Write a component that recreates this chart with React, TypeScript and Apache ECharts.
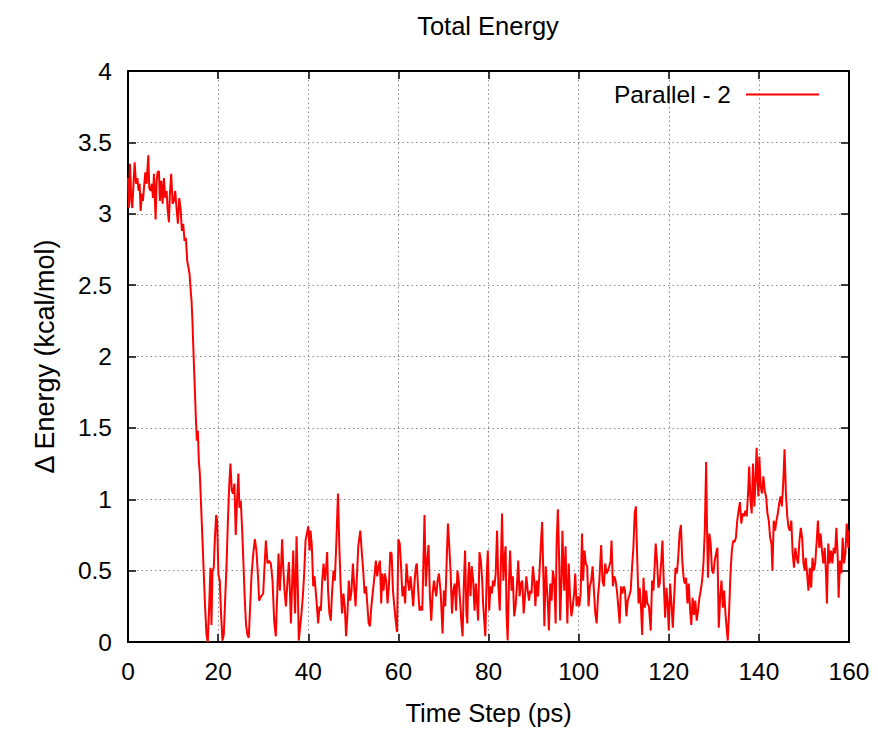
import React, { useEffect, useRef } from "react";
import * as echarts from "echarts";

const chartTitle = "Total Energy";
const seriesName = "Parallel - 2";
const xAxisName = "Time Step (ps)";
const yAxisName = "Δ Energy (kcal/mol)";
const xRange = [0, 160, 20];
const yRange = [0, 4, 0.5];

// [time (ps), ΔE (kcal/mol)]
const equilibration: [number, number][] = [
  [0,3.25],[0.2,3.04],[0.44,3.35],[0.74,3.09],[0.96,3.04],[1.25,3.23],[1.48,3.36],[1.77,3.21],[2.07,3.25],[2.36,3.16],
  [2.58,3.21],[2.8,3.02],[3.1,3.14],[3.32,3.09],[3.54,3.18],[3.84,3.29],[4.13,3.21],[4.5,3.41],[4.72,3.18],[5.02,3.16],
  [5.31,3.21],[5.54,3.11],[5.76,3.28],[6.13,2.96],[6.35,3.23],[6.57,3.29],[6.86,3.3],[7.08,3.09],[7.38,3.23],[7.68,3.07],
  [7.97,3.25],[8.27,3.11],[8.56,3.16],[8.78,3.04],[9.08,2.94],[9.3,3.14],[9.59,3.28],[9.89,3.07],[10.18,3.09],[10.48,3.16],
  [10.77,3.04],[11.07,2.93],[11.37,3.11],[11.66,3.04],[11.96,2.88],[12.25,2.93],[12.55,2.81],[12.84,2.83],[13.14,2.67],[13.43,2.62],
  [13.65,2.58],[13.87,2.48],[14.1,2.39],[14.3,2.25],[14.5,2.06],[14.76,1.83],[15.06,1.57],[15.28,1.41],[15.5,1.48],[15.72,1.27],
  [15.94,1.18],[16.24,0.94],[16.53,0.71],[16.83,0.47],[17.12,0.24],[17.42,0.05],[17.71,0],[18,0.24],[18.3,0.52],[18.52,0.12],
  [18.75,0.5],[19.04,0.52],[19.26,0.71],[19.56,0.89],[19.78,0.85],[20.07,0.47],[20.37,0.43],[20.66,0.19],[20.96,0.01],[21.25,0.05],
  [21.55,0.29],[21.85,0.52],[22.14,0.82],[22.44,1.08],[22.73,1.25],[23.03,1.06],[23.32,1.04],[23.62,1.11],[23.91,0.75],[24.2,0.99],
  [24.5,1.18],[24.72,0.94],[25.02,0.99],[25.31,0.8],[25.6,0.57],[25.9,0.31],[26.2,0.12],[26.5,0.05],[26.8,0.03],
];

const stageB: [number, number][] = [
  [27.4,0.46],[27.8,0.62],[28.15,0.72],[28.5,0.64],[28.9,0.43],[29.1,0.29],[29.55,0.32],[30,0.34],[30.3,0.53],[30.6,0.71],
  [30.96,0.55],[31.33,0.57],[31.7,0.55],[32.07,0.43],[32.44,0.15],[32.8,0.04],[33.1,0.32],[33.4,0.62],[33.7,0.36],[34,0.55],
  [34.2,0.72],[34.44,0.53],[34.74,0.36],[35.04,0.25],[35.4,0.43],[35.7,0.56],[35.93,0.36],[36.15,0.13],[36.44,0.43],[36.67,0.64],
  [36.9,0.36],[37.1,0.2],[37.4,0.74],[37.7,0.36],[37.9,0.01],[38.2,0.11],[38.5,0.2],[38.8,0.32],[39.1,0.48],[39.4,0.71],
  [39.7,0.76],[40,0.81],[40.3,0.64],[40.5,0.78],[40.8,0.67],[41.1,0.39],[41.4,0.46],[41.7,0.34],[42,0.22],[42.2,0.13],
  [42.5,0.25],[42.8,0.22],[43.1,0.43],[43.4,0.55],[43.7,0.43],[44,0.53],[44.2,0.63],[44.4,0.36],[44.7,0.2],[45,0.15],
  [45.3,0.36],[45.6,0.5],[45.9,0.43],[46.2,0.67],[46.6,1.04],[46.9,0.67],[47.2,0.39],[47.5,0.2],[47.8,0.34],[48.1,0.25],
  [48.4,0.04],[48.7,0.2],[49,0.43],[49.3,0.29],[49.6,0.36],[49.9,0.55],[50.2,0.39],[50.5,0.25],[50.8,0.46],[51.1,0.67],
  [51.55,0.78],[51.9,0.62],[52.2,0.5],[52.5,0.34],[52.8,0.39],[53.1,0.27],[53.4,0.13],[53.7,0.11],[54,0.25],[54.3,0.34],
  [54.6,0.43],[55,0.57],[55.3,0.46],[55.6,0.53],[55.9,0.57],[56.2,0.27],[56.4,0.48],[56.7,0.36],[57,0.48],[57.3,0.43],
  [57.6,0.27],[57.9,0.39],[58.2,0.63],[58.5,0.62],[58.8,0.36],[59.1,0.25],[59.4,0.15],[59.7,0.07],[60,0.72],[60.3,0.69],
  [60.6,0.53],[60.9,0.32],[61.2,0.39],[61.5,0.27],[61.8,0.55],[62.1,0.43],[62.4,0.36],[62.7,0.46],[63,0.36],[63.3,0.25],
  [63.6,0.43],[63.9,0.53],[64.1,0.55],[64.4,0.36],[64.7,0.22],[65,0.25],[65.3,0.22],[65.8,0.89],[66.1,0.39],[66.4,0.57],
  [66.7,0.68],[67,0.32],[67.3,0.15],[67.6,0.34],[67.9,0.43],[68.2,0.36],[68.4,0.32],[68.7,0.43],[69,0.48],
];

const stageC: [number, number][] = [
  [69.4,0.34],[69.8,0.06],[70.1,0.36],[70.4,0.25],[70.7,0.55],[71,0.83],[71.3,0.67],[71.6,0.48],[71.9,0.2],[72.2,0.36],
  [72.5,0.41],[72.8,0.22],[73.1,0.5],[73.4,0.43],[73.7,0.29],[74,0.13],[74.25,0.04],[74.55,0.43],[74.8,0.64],[75.1,0.2],
  [75.3,0.13],[75.5,0.46],[75.7,0.56],[76,0.32],[76.3,0.53],[76.6,0.43],[76.9,0.22],[77.2,0.41],[77.5,0.25],[77.7,0.15],
  [78,0.63],[78.3,0.57],[78.6,0.43],[78.8,0.27],[79.1,0.13],[79.3,0.04],[79.6,0.46],[79.85,0.64],[80.15,0.22],[80.45,0.39],
  [80.75,0.34],[81,0.43],[81.3,0.39],[81.6,0.48],[81.9,0.78],[82.2,0.39],[82.5,0.22],[82.8,0.62],[83,0.9],[83.3,0.43],
  [83.6,0.6],[83.8,0.67],[84,0.2],[84.25,0.01],[84.55,0.43],[84.8,0.64],[85.1,0.36],[85.4,0.46],[85.7,0.18],[86,0.25],
  [86.3,0.39],[86.6,0.57],[86.9,0.32],[87.2,0.41],[87.5,0.43],[87.8,0.2],[88.1,0.32],[88.4,0.46],[88.7,0.36],[89,0.29],
  [89.25,0.36],[89.55,0.34],[89.85,0.53],[90.15,0.43],[90.4,0.25],[90.7,0.43],[91,0.32],[91.3,0.48],[91.6,0.67],[91.9,0.84],
  [92.2,0.43],[92.4,0.11],[92.7,0.53],[93,0.36],[93.2,0.25],[93.4,0.08],[93.7,0.41],[94,0.29],[94.3,0.5],[94.6,0.43],
  [94.9,0.13],[95.1,0.67],[95.4,0.93],[95.7,0.55],[95.9,0.15],[96.2,0.43],[96.4,0.78],[96.6,0.55],[96.8,0.36],[97.1,0.67],
  [97.3,0.39],[97.5,0.13],[97.8,0.55],[98.1,0.32],[98.4,0.18],[98.7,0.25],[99,0.34],[99.25,0.48],[99.55,0.25],[99.85,0.32],
  [100.15,0.25],[100.45,0.34],[100.75,0.76],[101,0.43],[101.3,0.64],[101.6,0.55],[101.9,0.53],[102.2,0.25],[102.5,0.39],[102.8,0.43],
  [103.1,0.53],[103.4,0.36],[103.7,0.2],[104,0.13],[104.3,0.32],[104.6,0.43],[105,0.68],[105.3,0.43],[105.6,0.39],[105.9,0.55],
  [106.2,0.48],[106.5,0.5],[106.8,0.53],[107.1,0.57],[107.3,0.71],[107.6,0.39],[107.9,0.46],[108.2,0.43],[108.5,0.36],[108.8,0.25],
  [109.1,0.13],[109.4,0.39],[109.7,0.34],[110,0.39],[110.3,0.36],[110.6,0.18],[110.9,0.29],[111.2,0.32],
];

const stageD: [number, number][] = [
  [111.55,0.36],[111.85,0.52],[112.15,0.66],[112.45,0.9],[112.7,0.95],[113,0.59],[113.3,0.27],[113.55,0.38],[113.85,0.24],[114.1,0.05],
  [114.4,0.45],[114.7,0.24],[115,0.36],[115.25,0.27],[115.6,0.25],[116,0.08],[116.3,0.43],[116.6,0.36],[116.9,0.55],[117.1,0.69],
  [117.4,0.57],[117.7,0.38],[118,0.41],[118.3,0.55],[118.6,0.71],[118.9,0.41],[119.2,0.17],[119.5,0.38],[119.8,0.24],[120,0.08],
  [120.3,0.41],[120.6,0.27],[120.9,0.1],[121.2,0.31],[121.5,0.52],[121.8,0.48],[122.1,0.59],[122.4,0.76],[122.7,0.82],[123,0.57],
  [123.3,0.45],[123.55,0.41],[123.85,0.45],[124.15,0.27],[124.45,0.41],[124.75,0.22],[125,0.12],[125.3,0.31],[125.6,0.19],[125.9,0.29],
  [126.2,0.15],[126.5,0.22],[126.8,0.31],[127.1,0.36],[127.4,0.43],[127.7,0.55],[128,0.78],[128.3,1.26],[128.5,0.78],[128.7,0.45],
  [129,0.76],[129.3,0.69],[129.6,0.5],[129.9,0.48],[130.2,0.57],[130.5,0.62],[130.8,0.66],[131.1,0.1],[131.4,0.31],[131.7,0.43],
  [132,0.24],[132.3,0.36],[132.6,0.19],[132.9,0.08],[133.1,0.01],[133.4,0.22],[133.7,0.48],[134,0.64],[134.3,0.71],[134.6,0.7],
  [134.9,0.73],[135.2,0.85],[135.5,0.92],[135.8,0.98],[136.1,0.83],[136.4,0.9],[136.7,0.88],[137,0.92],[137.3,0.88],[137.6,1.04],
  [137.85,1.23],[138.1,1.02],[138.4,0.9],[138.7,1.25],[139,0.95],[139.25,1.13],[139.5,1.36],[139.7,1.13],[139.9,1.02],[140.1,1.3],
  [140.4,1.09],[140.7,1.04],[141,1.16],[141.3,1.06],[141.6,1.02],[141.9,0.9],[142.2,0.85],[142.5,0.73],[142.8,0.69],[143,0.5],
  [143.3,0.85],[143.6,0.78],[143.9,0.85],[144.2,0.9],[144.5,0.97],[144.8,1.02],[145.1,0.95],[145.4,1.11],[145.7,1.35],[146,1.04],
  [146.3,0.88],[146.6,0.8],[146.9,0.78],[147.2,0.85],[147.5,0.62],[147.8,0.52],[148.1,0.66],[148.4,0.59],[148.7,0.55],[149,0.71],
  [149.3,0.8],[149.6,0.73],[149.9,0.55],[150.2,0.5],[150.4,0.59],[150.7,0.48],[151,0.36],[151.3,0.52],[151.6,0.38],[151.9,0.59],
  [152.2,0.5],[152.5,0.55],[152.8,0.69],[153.1,0.85],[153.4,0.66],[153.7,0.76],[154,0.64],[154.3,0.55],[154.6,0.66],[154.9,0.48],
  [155.1,0.27],[155.4,0.69],[155.7,0.55],[156,0.64],[156.3,0.55],[156.6,0.66],[156.9,0.62],[157.2,0.8],[157.5,0.59],[157.7,0.31],
  [158,0.57],[158.3,0.48],[158.6,0.73],[158.9,0.55],[159.2,0.62],[159.5,0.83],[159.85,0.66],[160,0.78],
];

const FONT = '"Liberation Sans", Arial, Helvetica, sans-serif';

export default function App() {
  const ref = useRef<HTMLDivElement>(null);

  useEffect(() => {
    if (!ref.current) return;
    const chart = echarts.init(ref.current, undefined, { renderer: "svg" });
    const data = [...equilibration, ...stageB, ...stageC, ...stageD];
    const frame = { show: true, onZero: false, lineStyle: { color: "#000", width: 2 } };
    const tick = { show: true, inside: true, length: 8, lineStyle: { color: "#000", width: 1.5 } };
    const grid = { show: true, lineStyle: { color: "#8a8a8a", width: 1, type: [1.5, 3] as any } };

    chart.setOption({
      animation: false,
      backgroundColor: "#fff",
      textStyle: { fontFamily: FONT, color: "#000" },
      title: {
        text: chartTitle,
        left: 483,
        textAlign: "center",
        top: 8,
        textStyle: { fontFamily: FONT, fontSize: 25.5, fontWeight: "normal", color: "#000" },
      },
      legend: {
        data: [{ name: seriesName, icon: "rect" }],
        right: 59,
        top: 82,
        padding: 0,
        align: "right",
        itemWidth: 73,
        itemHeight: 2,
        itemStyle: { color: "#ff0000", borderWidth: 0 },
        textStyle: { fontFamily: FONT, fontSize: 24.5, color: "#000", padding: [0, 10, 0, 0] },
      },
      grid: { left: 128, right: 29, top: 71, bottom: 90, containLabel: false },
      xAxis: [
        {
          type: "value",
          min: xRange[0], max: xRange[1], interval: xRange[2],
          position: "bottom",
          name: xAxisName,
          nameLocation: "middle",
          nameGap: 58,
          nameTextStyle: { fontFamily: FONT, fontSize: 25.5, color: "#000" },
          axisLine: frame,
          axisTick: tick,
          axisLabel: { margin: 17, fontFamily: FONT, fontSize: 24.5, color: "#000" },
          splitLine: grid,
        },
        {
          type: "value",
          min: xRange[0], max: xRange[1], interval: xRange[2],
          position: "top",
          axisLine: frame,
          axisTick: tick,
          axisLabel: { show: false },
          splitLine: { show: false },
        },
      ],
      yAxis: [
        {
          type: "value",
          min: yRange[0], max: yRange[1], interval: yRange[2],
          position: "left",
          name: yAxisName,
          nameLocation: "middle",
          nameGap: 70,
          nameRotate: 90,
          nameTextStyle: { fontFamily: FONT, fontSize: 27, color: "#000" },
          axisLine: frame,
          axisTick: tick,
          axisLabel: { margin: 16, fontFamily: FONT, fontSize: 24.5, color: "#000" },
          splitLine: grid,
        },
        {
          type: "value",
          min: yRange[0], max: yRange[1], interval: yRange[2],
          position: "right",
          axisLine: frame,
          axisTick: tick,
          axisLabel: { show: false },
          splitLine: { show: false },
        },
      ],
      series: [
        {
          name: seriesName,
          type: "line",
          xAxisIndex: 0,
          yAxisIndex: 0,
          data,
          symbol: "none",
          showSymbol: false,
          lineStyle: { color: "#ff0000", width: 2 },
          itemStyle: { color: "#ff0000" },
          clip: true,
          z: 3,
        },
      ],
    });
    return () => chart.dispose();
  }, []);

  return <div ref={ref} style={{ width: 878, height: 732, position: "absolute", left: 0, top: 0 }} />;
}
